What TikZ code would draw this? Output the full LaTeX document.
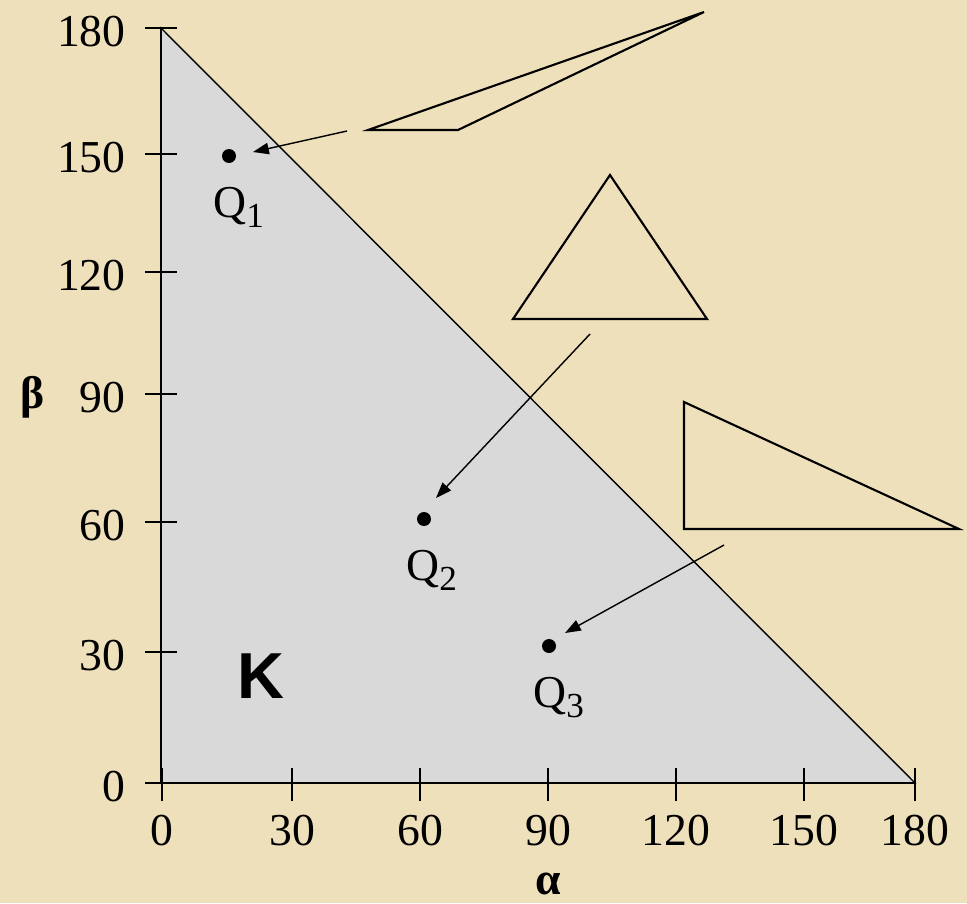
\documentclass[tikz,border=0pt]{standalone}
\usepackage{fontspec}
\setmainfont{Liberation Serif}
\newfontfamily\ksans{Liberation Sans}
\usetikzlibrary{arrows.meta}
\definecolor{parch}{RGB}{238,224,186}
\definecolor{regiongray}{RGB}{217,217,217}
\newcommand\qsub[1]{\raisebox{-0.22em}{\fontsize{20}{20}\selectfont #1}}
\tikzset{
  axisline/.style={line width=1.2pt, line cap=rect},
  tickline/.style={line width=1.3pt},
  shapeline/.style={line width=1.2pt, line join=miter},
  dot/.style={circle, fill=black, inner sep=0pt, minimum size=0.28cm},
  pointer/.style={line width=0.8pt, -{Triangle[length=9pt,width=6.5pt]}},
  ticklab/.style={inner sep=0pt, font=\fontsize{26}{26}\selectfont},
  qlab/.style={inner sep=0pt, anchor=base west, font=\fontsize{26}{26}\selectfont},
}
\begin{document}
\begin{tikzpicture}[x=0.02cm, y=-0.02cm]
\useasboundingbox (0,0) rectangle (967,903);
\fill[parch] (0,0) rectangle (967,903);
% region K
\filldraw[fill=regiongray, draw=black, line width=0.8pt] (161,28) -- (161,783) -- (915,783) -- cycle;
% axes
\draw[axisline] (161,28) -- (161,783) -- (915,783);
% y ticks
\foreach \yy/\lab in {28/180,154/150,272/120,394/90,522/60,652/30,783/0}{
  \draw[tickline] (145,\yy) -- (177,\yy);
  \node[ticklab, anchor=east] (yl\lab) at (126,\yy+4) {\lab};
}
% x ticks
\foreach \xx/\lab in {162/0,292/30,420/60,548/90,676/120,804/150,915/180}{
  \draw[tickline] (\xx,768) -- (\xx,801);
  \node[ticklab] (xl\lab) at (\xx,831) {\lab};
}
% axis names
\node[inner sep=0pt, font=\fontsize{26}{26}\selectfont\bfseries] (beta) at (33,397) {β};
\node[inner sep=0pt, anchor=base, text depth=0pt, font=\fontsize{26}{26}\selectfont\bfseries] (alpha) at (548,894) {α};
% K
\node[inner sep=0pt, anchor=base west, font=\ksans\fontsize{37}{37}\selectfont\bfseries] (K) at (237,698) {K};
% points
\node[dot] (q1) at (229,156) {};
\node[dot] (q2) at (424,519) {};
\node[dot] (q3) at (549,646) {};
\node[qlab] (q1l) at (213,217) {Q\qsub{1}};
\node[qlab] (q2l) at (406,580) {Q\qsub{2}};
\node[qlab] (q3l) at (533,707) {Q\qsub{3}};
% triangles
\coordinate (t1a) at (368,130);
\coordinate (t1b) at (458,130);
\coordinate (t1c) at (704,12);
\draw[shapeline] (t1a) -- (t1b) -- (t1c) -- cycle;
\coordinate (t2a) at (513,319);
\coordinate (t2b) at (707,319);
\coordinate (t2c) at (610,175);
\draw[shapeline] (t2a) -- (t2b) -- (t2c) -- cycle;
\coordinate (t3a) at (684,402);
\coordinate (t3b) at (684,529);
\coordinate (t3c) at (959,529);
\draw[shapeline] (t3a) -- (t3b) -- (t3c) -- cycle;
% arrows
\coordinate (a1s) at (347,131);
\coordinate (a1e) at (253,152);
\coordinate (a2s) at (590,334);
\coordinate (a2e) at (436,498);
\coordinate (a3s) at (724,545);
\coordinate (a3e) at (565,633);
\draw[pointer] (a1s) -- (a1e);
\draw[pointer] (a2s) -- (a2e);
\draw[pointer] (a3s) -- (a3e);
\end{tikzpicture}
\end{document}
